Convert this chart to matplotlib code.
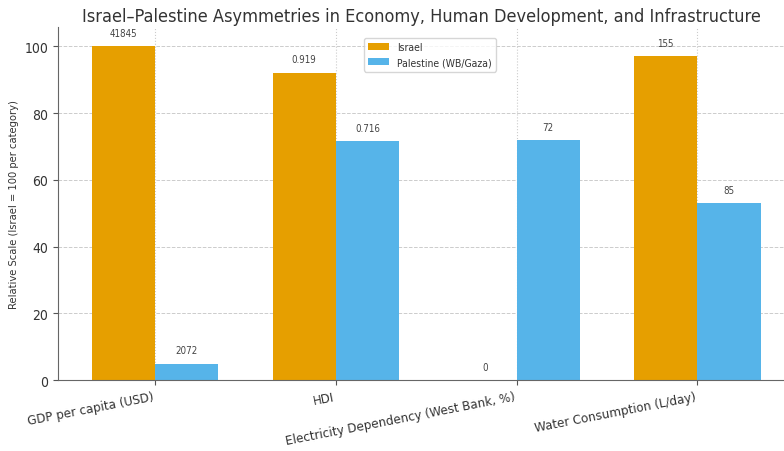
import numpy as np
import matplotlib
matplotlib.use("Agg")
from matplotlib import pyplot as plt

# categories and values (relative scale, Israel = 100 per category)
categories = ["GDP per capita (USD)", "HDI",
              "Electricity Dependency (West Bank, %)", "Water Consumption (L/day)"]
israel_rel = [100, 92.2, 0, 97]
palestine_rel = [4.95, 71.6, 72, 53]
israel_raw = ["41845", "0.919", "0", "155"]
palestine_raw = ["2072", "0.716", "72", "85"]

# the reference text looks narrow, condensed DejaVu gets close
plt.rcParams["font.stretch"] = "condensed"
plt.rcParams["text.color"] = "#333333"
plt.rcParams["axes.labelcolor"] = "#333333"
plt.rcParams["xtick.color"] = "#555555"
plt.rcParams["ytick.color"] = "#555555"
plt.rcParams["xtick.labelcolor"] = "#333333"
plt.rcParams["ytick.labelcolor"] = "#333333"

fig = plt.figure(figsize=(7.84, 4.52), dpi=100)
ax = fig.add_axes([0.074, 0.157, 0.926, 0.78])

x = np.arange(len(categories))
width = 0.35

b1 = ax.bar(x - width / 2, israel_rel, width, color="#E69F00", label="Israel")
b2 = ax.bar(x + width / 2, palestine_rel, width, color="#56B4E9", label="Palestine (WB/Gaza)")

# raw values above the bars
for bars, raw in ((b1, israel_raw), (b2, palestine_raw)):
    for bar, txt in zip(bars, raw):
        ax.text(bar.get_x() + bar.get_width() / 2, bar.get_height() + 2.5, txt,
                ha="center", va="bottom", fontsize=7, color="#444444")

ax.set_xticks(x)
ax.set_xticklabels(categories, rotation=11, ha="right", fontsize=9.5)
ax.set_xlim(-0.537, 3.48)
ax.set_ylim(0, 105.7)
ax.set_ylabel("Relative Scale (Israel = 100 per category)", fontsize=8)
ax.tick_params(axis="y", labelsize=10)
ax.set_title("Israel\u2013Palestine Asymmetries in Economy, Human Development, and Infrastructure",
             fontsize=13, pad=5)
ax.grid(True, axis="y", linestyle="--", color="#cccccc", linewidth=0.7)
ax.grid(True, axis="x", linestyle=":", color="#cccccc", linewidth=0.8)
ax.set_axisbelow(True)
for side in ("top", "right"):
    ax.spines[side].set_visible(False)
for side in ("left", "bottom"):
    ax.spines[side].set_color("#666666")
ax.legend(loc="upper center", bbox_to_anchor=(0.512, 0.985), fontsize=7.5)

fig.savefig("out.png", dpi=100)
